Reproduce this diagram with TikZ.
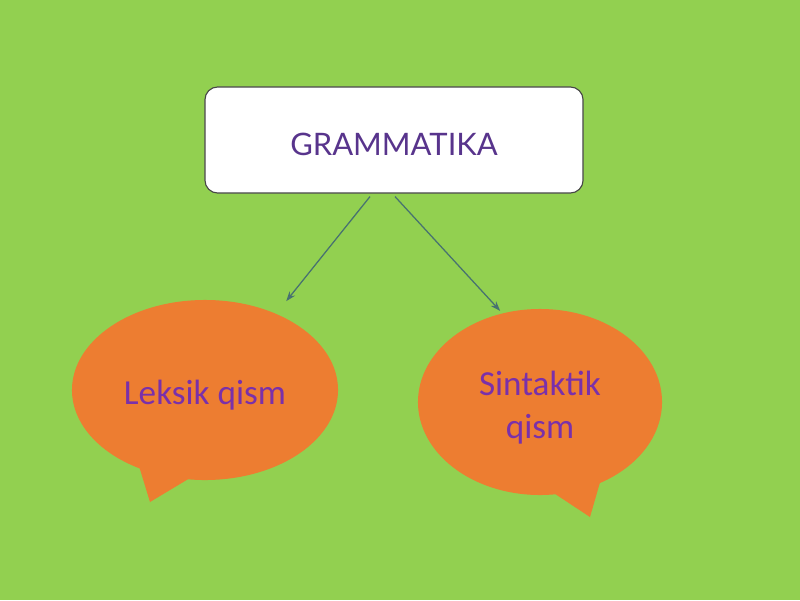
\documentclass[tikz,border=0pt]{standalone}
\definecolor{leafGreen}{RGB}{146, 208, 80}
\definecolor{bubbleOrange}{RGB}{237, 125, 49}
\definecolor{titlePurple}{RGB}{88, 52, 140}
\definecolor{textPurple}{RGB}{122, 48, 170}
\definecolor{linkTeal}{RGB}{72, 114, 112}
\definecolor{frameGray}{RGB}{70, 70, 70}
\usepackage{fontspec}
\setmainfont{Carlito}
\newfontfamily\titlefont{Lato}
\usepackage{tikz}
\usetikzlibrary{shapes,shapes.callouts,arrows.meta,positioning}

\begin{document}
\begin{tikzpicture}[
                x=0.025cm,y=-0.025cm,
                headbox/.style={draw=frameGray,line width=0.8pt,fill=white,rounded corners=9pt,
                              minimum width=9.45cm,minimum height=2.65cm,
                              font=\titlefont\fontsize{22}{26}\selectfont,text=titlePurple},
                bubble/.style={ellipse callout,fill=bubbleOrange,callout pointer arc=22,
                              font=\fontsize{25}{30}\selectfont,text=textPurple,align=center,inner sep=0pt},
                link/.style={draw=linkTeal,line width=0.9pt,-{Stealth[length=7pt,width=5pt]}}
            ]
                \fill[leafGreen] (0,0) rectangle (800,600);
                \node[headbox] (title) at (394,140) {\raisebox{-2.8pt}[\height][\depth]{GRAMMATIKA}};
                \node[bubble,minimum width=6.65cm,minimum height=4.5cm,
                      callout absolute pointer={(150,502)}] (leksik) at (205,390)
                      {\raisebox{-3.5pt}[\height][\depth]{Leksik qism}};
                \node[bubble,minimum width=6.1cm,minimum height=4.65cm,
                      callout absolute pointer={(590,517)}] (sintaktik) at (540,402)
                      {\raisebox{-4.6pt}[\height][\depth]{\begin{tabular}{@{}c@{}}Sintaktik\\qism\end{tabular}}};
                \draw[link,shorten >=0.4cm] ([shift={(-24,3)}]title.south) -- (leksik.47);
                \draw[link,shorten >=0.08cm] ([shift={(1,3)}]title.south) -- (sintaktik.113);
            \end{tikzpicture}
\end{document}
